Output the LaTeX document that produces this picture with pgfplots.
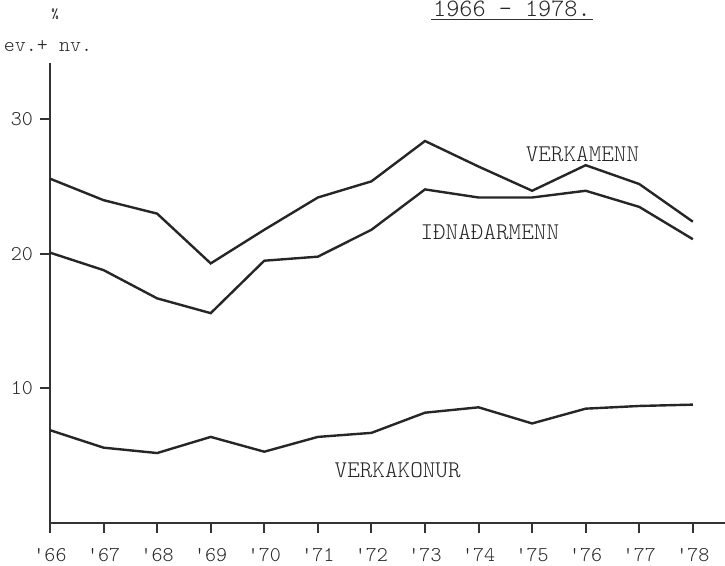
\documentclass[border=0pt]{standalone}
\usepackage{pgfplots}
\pgfplotsset{compat=1.18}
\begin{document}
\begin{tikzpicture}[x=1pt,y=1pt]
\begin{axis}[
  at={(25pt,21.5pt)}, anchor=south west,
  scale only axis, width=337.5pt, height=230pt,
  xmin=66, xmax=78.6, ymin=0, ymax=34.2,
  axis x line=bottom, axis y line=left,
  axis line style={-, line width=1.2pt, black!80},
  xtick={66,...,78},
  xticklabels={'66,'67,'68,'69,'70,'71,'72,'73,'74,'75,'76,'77,'78},
  ytick={10,20,30},
  tick align=outside, major tick length=5pt,
  tick style={line width=1pt, black!80},
  ticklabel style={font=\fontsize{10.5}{12}\ttfamily\fontseries{l}\selectfont, black!85},
  xticklabel style={yshift=-4pt},
  /pgf/number format/assume math mode=true,
  clip=false,
]
\addplot[line width=1.2pt, black!85] coordinates {
(66,25.6) (67,24.0) (68,23.0) (69,19.3) (70,21.8) (71,24.2) (72,25.4) (73,28.4) (74,26.5) (75,24.7) (76,26.6) (77,25.2) (78,22.4)};
\addplot[line width=1.2pt, black!85] coordinates {
(66,20.1) (67,18.8) (68,16.7) (69,15.6) (70,19.5) (71,19.8) (72,21.8) (73,24.8) (74,24.2) (75,24.2) (76,24.7) (77,23.5) (78,21.1)};
\addplot[line width=1.2pt, black!85] coordinates {
(66,6.9) (67,5.6) (68,5.2) (69,6.4) (70,5.3) (71,6.4) (72,6.7) (73,8.2) (74,8.6) (75,7.4) (76,8.5) (77,8.7) (78,8.8)};
\node[font=\fontsize{12}{14}\ttfamily\fontseries{l}\selectfont, black!85] at (axis cs:75.94,27.4) {VERKAMENN};
\node[font=\fontsize{12}{14}\ttfamily\fontseries{l}\selectfont, black!85] at (axis cs:74.21,21.6) {IÐNAÐARMENN};
\node[font=\fontsize{12}{14}\ttfamily\fontseries{l}\selectfont, black!85] at (axis cs:72.49,3.9) {VERKAKONUR};
\end{axis}
\node[font=\fontsize{7}{8}\ttfamily, black!85] at (27.5,276) {\%};
\node[font=\fontsize{10.5}{12}\ttfamily\fontseries{l}\selectfont, black!85] at (24,260) {ev.+ nv.};
\node[font=\fontsize{12.5}{14}\ttfamily\fontseries{l}\selectfont, black!85, inner sep=1pt] (t) at (256,278.5) {1966 - 1978.};
\draw[line width=0.8pt, black!80] (t.south west) -- (t.south east);
\pgfresetboundingbox
\useasboundingbox (0,0) rectangle (362.5,283);
\end{tikzpicture}
\end{document}
